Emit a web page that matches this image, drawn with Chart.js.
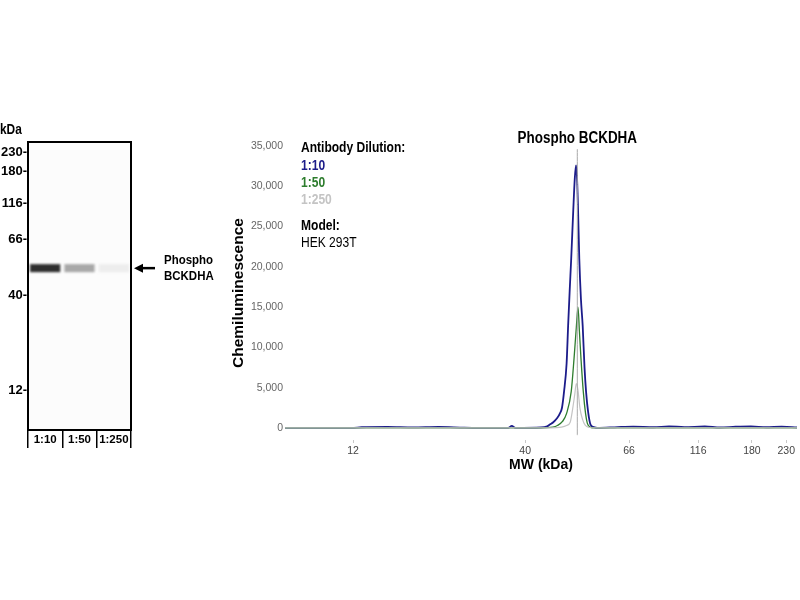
<!DOCTYPE html>
<html>
<head>
<meta charset="utf-8">
<script src="https://cdn.jsdelivr.net/npm/chart.js@4.4.0/dist/chart.umd.min.js"></script>
<style>
  html, body { margin: 0; padding: 0; background: #fff; }
  body { width: 800px; height: 600px; position: relative; overflow: hidden; }
  .box { position: absolute; }
  #gelBox { left: 0; top: 120px; width: 230px; height: 330px; }
  #traceBox { left: 225px; top: 125px; width: 575px; height: 355px; }
</style>
</head>
<body>
<div id="gelBox" class="box"><canvas id="gel"></canvas></div>
<div id="traceBox" class="box"><canvas id="trace"></canvas></div>
<script>
const SANS = "'Liberation Sans', Arial, sans-serif";

// marker ladder (kDa) and where each marker sits on the two panels (migration units 0-100)
const ladderKDa = [12, 40, 66, 116, 180, 230];
const gelLadderPos = [86.1, 53.1, 33.7, 21.2, 10.1, 3.5];
const traceLadderPos = [13.3, 46.9, 67.2, 80.7, 91.2, 97.9];

// lanes of the virtual blot
const lanes = ['1:10', '1:50', '1:250'];
const bandPos = [43.8, 43.8, 43.8];
const bandDensity = [0.82, 0.34, 0.07];

// chemiluminescence traces (x = migration position, y = signal)
const pos10 = [0, 13, 15, 20, 25, 30, 35, 40, 43.6, 44.3, 45, 50, 51.2, 51.8, 52.4, 53.2, 53.7, 54.1, 54.5, 55.0, 55.3, 55.6, 55.9, 56.3, 56.6, 56.84, 57.0, 57.2, 57.48, 57.8, 58.14, 58.5, 58.8, 59.2, 59.7, 60.3, 61, 65, 68, 72, 75, 78, 82, 85, 88, 91, 94, 97, 100];
const sig10 = [0, 0, 80, 120, 60, 120, 40, 0, 0, 250, 0, 50, 200, 450, 700, 1250, 1800, 2500, 4500, 8000, 12700, 17000, 21000, 27000, 31000, 32600, 31500, 28000, 21000, 16000, 12700, 7500, 4500, 2000, 370, 100, 0, 100, 150, 80, 200, 100, 180, 50, 150, 200, 80, 150, 50];
const pos50 = [0, 50, 52.3, 53.2, 54.2, 55.0, 55.9, 56.45, 56.9, 57.23, 57.5, 57.81, 58.26, 58.7, 59.04, 59.6, 60.5, 100];
const sig50 = [0, 0, 100, 300, 800, 1800, 4500, 8600, 12500, 15000, 12000, 8600, 4500, 1800, 600, 100, 0, 0];
const pos250 = [0, 52, 54.0, 55.0, 55.7, 56.19, 56.6, 56.89, 57.2, 57.62, 58.1, 58.59, 59.5, 60.5, 100];
const sig250 = [0, 0, 100, 300, 700, 2400, 4200, 5500, 4800, 2400, 1100, 370, 50, 0, 0];

const targetPos = 57.09;
const yTicks = [0, 5000, 10000, 15000, 20000, 25000, 30000, 35000];
const yMin = -1500, yMax = 35000;

Chart.defaults.animation = false;
Chart.defaults.font.family = SANS;

const zip = (xs, ys) => xs.map((x, i) => ({ x: x, y: ys[i] }));
const grayOf = d => { const g = Math.round(255 * (1 - d)); return `rgb(${g},${g},${g})`; };

// text squeezed sideways, like the narrow face of the original
function narrowText(ctx, text, x, y, font, k) {
  ctx.save();
  ctx.translate(x, y);
  ctx.scale(k, 1);
  ctx.font = font;
  ctx.fillText(text, 0, 0);
  ctx.restore();
}

// ---------- blot panel ----------
const gelDecor = {
  id: 'gelDecor',
  beforeDraw(chart) {
    const { ctx, chartArea: a } = chart;
    ctx.save();
    ctx.fillStyle = '#fcfcfc';
    ctx.fillRect(a.left, a.top, a.right - a.left, a.bottom - a.top);
    ctx.restore();
  },
  beforeDatasetsDraw(chart) {
    chart.ctx.save();
    chart.ctx.filter = 'blur(1.1px)';
  },
  afterDatasetsDraw(chart) {
    chart.ctx.restore();
  },
  afterDraw(chart) {
    const { ctx, chartArea: a, scales } = chart;
    ctx.save();
    ctx.strokeStyle = '#000';
    ctx.lineWidth = 2;
    ctx.strokeRect(a.left, a.top, a.right - a.left, a.bottom - a.top);

    ctx.fillStyle = '#000';
    ctx.textBaseline = 'middle';
    ctx.textAlign = 'left';
    narrowText(ctx, 'kDa', 0, a.top - 12, `bold 14px ${SANS}`, 0.85);

    // arrow pointing at the band
    const yb = scales.y.getPixelForValue(bandPos[0]);
    ctx.lineWidth = 2.5;
    ctx.beginPath();
    ctx.moveTo(a.right + 24, yb);
    ctx.lineTo(a.right + 10, yb);
    ctx.stroke();
    ctx.beginPath();
    ctx.moveTo(a.right + 3, yb);
    ctx.lineTo(a.right + 12, yb - 4.5);
    ctx.lineTo(a.right + 12, yb + 4.5);
    ctx.closePath();
    ctx.fill();

    narrowText(ctx, 'Phospho', a.right + 33, yb - 8, `bold 13.5px ${SANS}`, 0.85);
    narrowText(ctx, 'BCKDHA', a.right + 33, yb + 8, `bold 13.5px ${SANS}`, 0.85);
    ctx.restore();
  }
};

new Chart(document.getElementById('gel'), {
  type: 'bar',
  data: {
    labels: lanes,
    datasets: [{
      data: bandPos.map(p => [p - 1.4, p + 1.4]),
      backgroundColor: bandDensity.map(grayOf),
      borderWidth: 0,
      barPercentage: 0.88,
      categoryPercentage: 1
    }]
  },
  options: {
    responsive: true,
    maintainAspectRatio: false,
    layout: { padding: { top: 22, right: 99, bottom: 2, left: 0 } },
    plugins: { legend: { display: false }, tooltip: { enabled: false } },
    scales: {
      x: {
        grid: { offset: true, drawOnChartArea: false, tickLength: 18, color: '#000', lineWidth: 1.5 },
        border: { display: false },
        ticks: { padding: -15, autoSkip: false, maxRotation: 0, minRotation: 0, color: '#000', font: { weight: 'bold', size: 11.5 } },
        afterFit: s => { s.height = 18; }
      },
      y: {
        reverse: true,
        min: 0,
        max: 100,
        afterBuildTicks: s => { s.ticks = gelLadderPos.map(v => ({ value: v })); },
        ticks: {
          padding: 1,
          color: '#000',
          font: { weight: 'bold', size: 13 },
          callback: v => ladderKDa[gelLadderPos.indexOf(v)] + '-'
        },
        grid: { display: false, drawTicks: false },
        border: { display: false },
        afterFit: s => { s.width = 28; }
      }
    }
  },
  plugins: [gelDecor]
});

// ---------- trace panel ----------
const legendLines = [
  { text: 'Antibody Dilution:', color: '#000', bold: true, dy: 2 },
  { text: '1:10', color: '#1c1c8a', bold: true, dy: 20 },
  { text: '1:50', color: '#2e7d2e', bold: true, dy: 37 },
  { text: '1:250', color: '#c4c4c4', bold: true, dy: 54 },
  { text: 'Model:', color: '#000', bold: true, dy: 80 },
  { text: 'HEK 293T', color: '#000', bold: false, dy: 97 }
];

const traceDecor = {
  id: 'traceDecor',
  afterDraw(chart) {
    const { ctx, chartArea: a, scales } = chart;
    ctx.save();
    ctx.textBaseline = 'middle';
    ctx.textAlign = 'center';
    ctx.fillStyle = '#000';
    narrowText(ctx, 'Phospho BCKDHA', scales.x.getPixelForValue(targetPos), a.top - 7, `bold 16px ${SANS}`, 0.84);

    ctx.textAlign = 'left';
    legendLines.forEach(l => {
      ctx.fillStyle = l.color;
      narrowText(ctx, l.text, a.left + 16, a.top + l.dy, `${l.bold ? 'bold ' : ''}14px ${SANS}`, 0.86);
    });
    ctx.restore();
  }
};

new Chart(document.getElementById('trace'), {
  type: 'scatter',
  data: {
    datasets: [
      { label: 'target', data: [{ x: targetPos, y: yMin + 600 }, { x: targetPos, y: yMax - 400 }], borderColor: '#a8a8a8', borderWidth: 1 },
      { label: '1:250', data: zip(pos250, sig250), borderColor: '#c4c4c4', borderWidth: 1.2 },
      { label: '1:50', data: zip(pos50, sig50), borderColor: '#2e7d2e', borderWidth: 1.3 },
      { label: '1:10', data: zip(pos10, sig10), borderColor: '#1c1c8a', borderWidth: 1.8 }
    ]
  },
  options: {
    responsive: true,
    maintainAspectRatio: false,
    showLine: true,
    elements: { point: { radius: 0 }, line: { cubicInterpolationMode: 'monotone' } },
    layout: { padding: { top: 21, right: 3, bottom: 0, left: 0 } },
    plugins: { legend: { display: false }, tooltip: { enabled: false } },
    scales: {
      x: {
        type: 'linear',
        min: 0,
        max: 100,
        afterBuildTicks: s => { s.ticks = traceLadderPos.map(v => ({ value: v })); },
        ticks: {
          padding: 2,
          color: '#444',
          font: { size: 10.5 },
          maxRotation: 0,
          callback: v => ladderKDa[traceLadderPos.indexOf(v)]
        },
        grid: { drawOnChartArea: false, tickLength: 3, color: '#c8c8c8' },
        border: { display: false },
        title: { display: true, text: 'MW (kDa)', color: '#000', font: { size: 14, weight: 'bold' }, padding: { top: 0, bottom: 6 } },
        afterFit: s => { s.height = 40; }
      },
      y: {
        min: yMin,
        max: yMax,
        afterBuildTicks: s => { s.ticks = yTicks.map(v => ({ value: v })); },
        ticks: {
          padding: 2,
          color: '#666',
          font: { size: 10.5 },
          callback: v => v.toLocaleString('en-US')
        },
        grid: { display: false, drawTicks: false },
        border: { display: false },
        title: { display: true, text: 'Chemiluminescence', color: '#000', font: { size: 15.5, weight: 'bold' }, padding: { top: 4, bottom: 0 } },
        afterFit: s => { s.width = 60; }
      }
    }
  },
  plugins: [traceDecor]
});
</script>
</body>
</html>
